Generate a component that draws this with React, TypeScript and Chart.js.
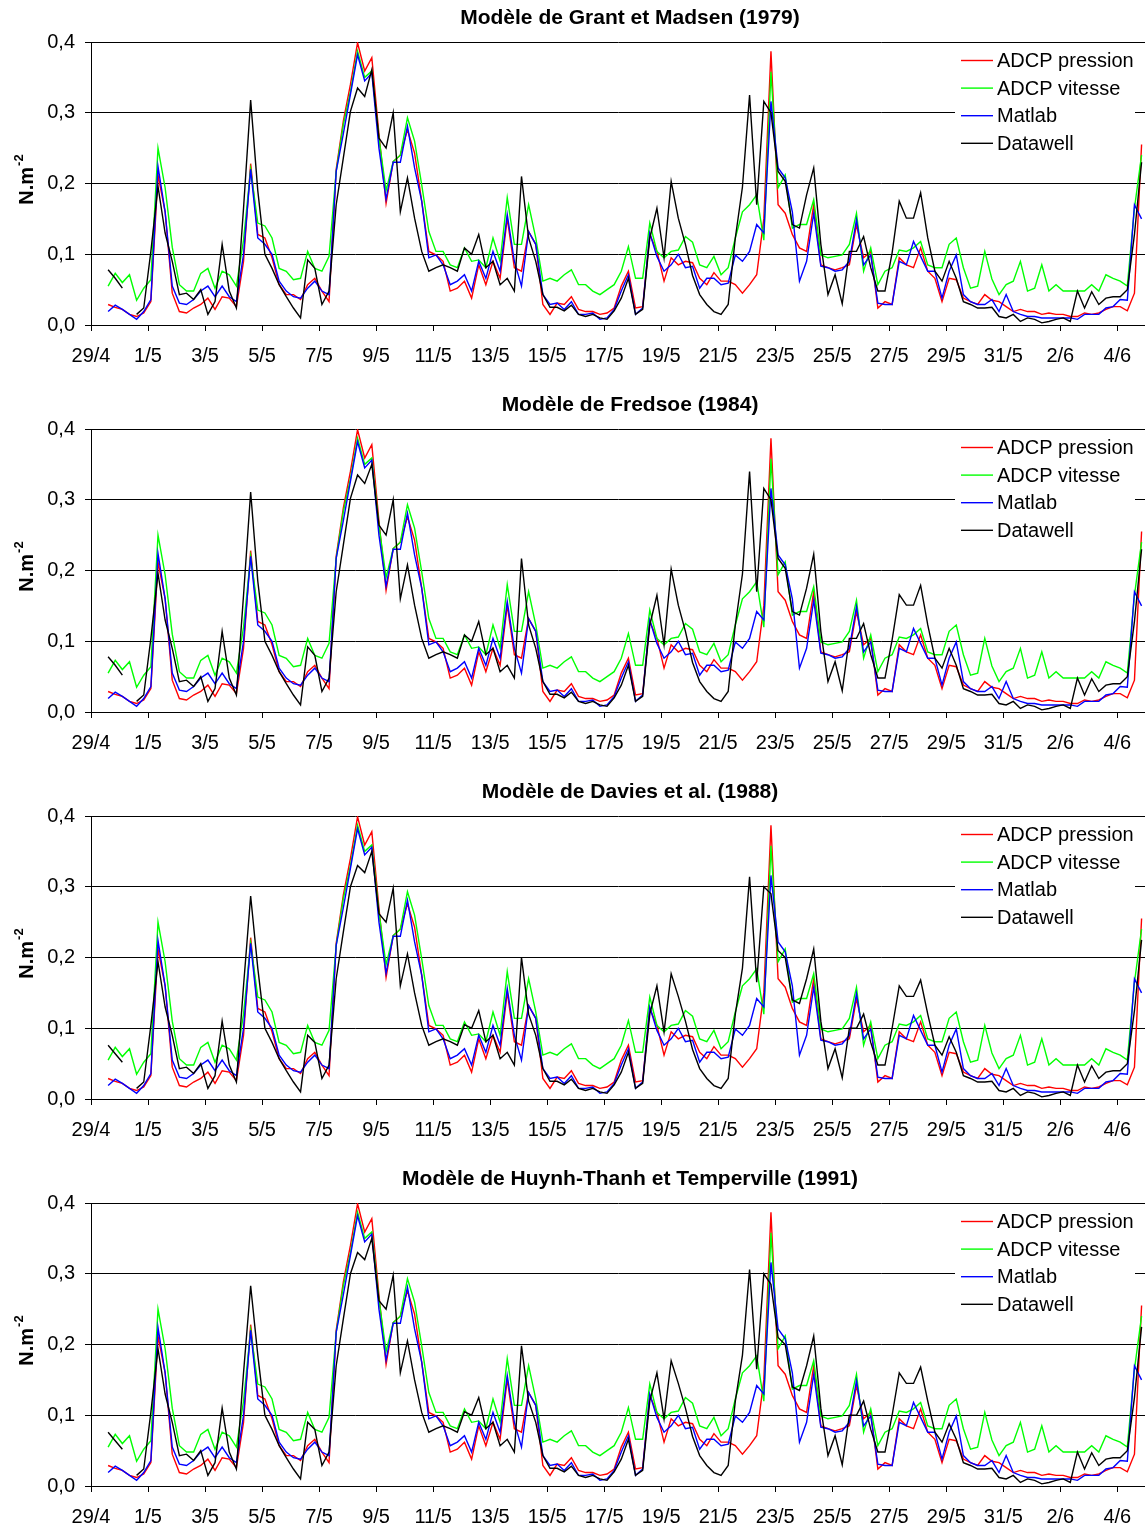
import React, { useEffect, useRef } from 'react';
import { Chart, registerables } from 'chart.js';

Chart.register(...registerables);

const FONT = '"Liberation Sans", Arial, sans-serif';

const PANEL_TITLES = [
  'Modèle de Grant et Madsen (1979)',
  'Modèle de Fredsoe (1984)',
  'Modèle de Davies et al. (1988)',
  'Modèle de Huynh-Thanh et Temperville (1991)',
];
const SERIES_NAMES = ['ADCP pression', 'ADCP vitesse', 'Matlab', 'Datawell'];
const SERIES_COLORS = ['#ff0000', '#00ff00', '#0000ff', '#000000'];

const START_DAY = 0.6; // 29/4 = day 0, one value every 6 h
const STEP_DAY = 0.25;
const X_MAX = 36.97;
const X_TICK_DAYS = [0, 2, 4, 6, 8, 10, 12, 14, 16, 18, 20, 22, 24, 26, 28, 30, 32, 34, 36];
const X_TICK_LABELS = ['29/4', '1/5', '3/5', '5/5', '7/5', '9/5', '11/5', '13/5', '15/5', '17/5', '19/5', '21/5', '23/5', '25/5', '27/5', '29/5', '31/5', '2/6', '4/6'];
const Y_TICKS = [0, 0.1, 0.2, 0.3, 0.4];
const Y_TICK_LABELS = ['0,0', '0,1', '0,2', '0,3', '0,4'];

const ADCP_PRESSION = [
  0.029, 0.025, 0.022, 0.015, 0.012, 0.017, 0.033, 0.212, 0.160, 0.045,
  0.019, 0.017, 0.024, 0.029, 0.038, 0.022, 0.040, 0.038, 0.026, 0.090,
  0.228, 0.128, 0.123, 0.095, 0.057, 0.043, 0.043, 0.036, 0.057, 0.066,
  0.048, 0.033, 0.220, 0.288, 0.340, 0.399, 0.359, 0.378, 0.270, 0.172,
  0.231, 0.240, 0.276, 0.243, 0.175, 0.104, 0.099, 0.090, 0.048, 0.052,
  0.062, 0.038, 0.085, 0.057, 0.090, 0.066, 0.151, 0.081, 0.076, 0.132,
  0.114, 0.029, 0.015, 0.031, 0.029, 0.040, 0.022, 0.019, 0.019, 0.015,
  0.017, 0.024, 0.055, 0.076, 0.024, 0.026, 0.128, 0.104, 0.062, 0.095,
  0.085, 0.090, 0.088, 0.066, 0.057, 0.074, 0.062, 0.062, 0.057, 0.045,
  0.057, 0.071, 0.150, 0.387, 0.170, 0.158, 0.128, 0.109, 0.104, 0.170,
  0.085, 0.081, 0.078, 0.081, 0.085, 0.142, 0.095, 0.104, 0.024, 0.033,
  0.029, 0.095, 0.085, 0.081, 0.109, 0.076, 0.066, 0.033, 0.066, 0.064,
  0.038, 0.033, 0.029, 0.043, 0.035, 0.033, 0.026, 0.019, 0.022, 0.019,
  0.019, 0.015, 0.017, 0.015, 0.015, 0.012, 0.012, 0.017, 0.015, 0.017,
  0.022, 0.026, 0.026, 0.020, 0.045, 0.255,
];

const ADCP_VITESSE = [
  0.055, 0.073, 0.060, 0.071, 0.035, 0.052, 0.064, 0.250, 0.194, 0.110,
  0.057, 0.048, 0.048, 0.073, 0.080, 0.052, 0.076, 0.071, 0.055, 0.120,
  0.220, 0.144, 0.140, 0.123, 0.080, 0.076, 0.064, 0.066, 0.104, 0.080,
  0.076, 0.097, 0.217, 0.283, 0.330, 0.387, 0.350, 0.359, 0.264, 0.190,
  0.231, 0.240, 0.293, 0.260, 0.198, 0.132, 0.104, 0.104, 0.085, 0.081,
  0.109, 0.090, 0.092, 0.081, 0.123, 0.090, 0.180, 0.114, 0.114, 0.170,
  0.123, 0.062, 0.066, 0.062, 0.071, 0.078, 0.057, 0.057, 0.048, 0.043,
  0.050, 0.057, 0.076, 0.111, 0.066, 0.066, 0.144, 0.104, 0.095, 0.104,
  0.106, 0.125, 0.117, 0.085, 0.081, 0.097, 0.071, 0.081, 0.123, 0.160,
  0.170, 0.184, 0.120, 0.358, 0.194, 0.212, 0.137, 0.142, 0.142, 0.177,
  0.099, 0.095, 0.097, 0.099, 0.114, 0.158, 0.076, 0.109, 0.057, 0.076,
  0.081, 0.106, 0.104, 0.109, 0.118, 0.085, 0.081, 0.081, 0.114, 0.123,
  0.081, 0.052, 0.055, 0.104, 0.065, 0.043, 0.057, 0.062, 0.090, 0.048,
  0.052, 0.085, 0.048, 0.057, 0.048, 0.048, 0.048, 0.048, 0.057, 0.048,
  0.071, 0.066, 0.062, 0.055, 0.165, 0.240,
];

const MATLAB = [
  0.019, 0.028, 0.022, 0.015, 0.008, 0.019, 0.036, 0.224, 0.160, 0.055,
  0.031, 0.029, 0.036, 0.048, 0.055, 0.040, 0.055, 0.040, 0.033, 0.100,
  0.220, 0.123, 0.114, 0.100, 0.062, 0.048, 0.040, 0.038, 0.052, 0.062,
  0.048, 0.043, 0.217, 0.270, 0.326, 0.382, 0.345, 0.356, 0.250, 0.178,
  0.230, 0.230, 0.281, 0.222, 0.175, 0.095, 0.099, 0.085, 0.057, 0.062,
  0.071, 0.048, 0.090, 0.066, 0.104, 0.076, 0.156, 0.090, 0.055, 0.132,
  0.114, 0.043, 0.029, 0.031, 0.022, 0.033, 0.015, 0.015, 0.017, 0.008,
  0.010, 0.022, 0.048, 0.071, 0.015, 0.024, 0.130, 0.097, 0.076, 0.085,
  0.100, 0.081, 0.083, 0.052, 0.066, 0.066, 0.057, 0.059, 0.099, 0.090,
  0.104, 0.142, 0.130, 0.316, 0.222, 0.208, 0.160, 0.062, 0.090, 0.158,
  0.083, 0.081, 0.076, 0.078, 0.090, 0.149, 0.085, 0.099, 0.031, 0.029,
  0.029, 0.090, 0.085, 0.118, 0.097, 0.076, 0.076, 0.038, 0.076, 0.099,
  0.043, 0.033, 0.029, 0.029, 0.036, 0.019, 0.043, 0.019, 0.015, 0.012,
  0.012, 0.010, 0.010, 0.010, 0.010, 0.010, 0.008, 0.015, 0.015, 0.015,
  0.024, 0.026, 0.036, 0.035, 0.170, 0.150,
];

// Datawell (black) differs the most between the four models
const DATAWELL_GRANT = [
  0.078, 0.066, 0.052, null, 0.015, 0.024, 0.104, 0.196, 0.130, 0.090,
  0.043, 0.045, 0.036, 0.050, 0.015, 0.033, 0.114, 0.048, 0.024, 0.165,
  0.318, 0.190, 0.100, 0.080, 0.057, 0.040, 0.024, 0.010, 0.092, 0.080,
  0.029, 0.048, 0.170, 0.236, 0.302, 0.335, 0.323, 0.361, 0.264, 0.250,
  0.300, 0.160, 0.208, 0.151, 0.104, 0.076, 0.081, 0.085, 0.081, 0.076,
  0.109, 0.100, 0.128, 0.081, 0.090, 0.057, 0.066, 0.048, 0.210, 0.123,
  0.090, 0.043, 0.025, 0.025, 0.020, 0.028, 0.015, 0.012, 0.015, 0.010,
  0.008, 0.020, 0.038, 0.066, 0.015, 0.022, 0.123, 0.165, 0.095, 0.203,
  0.151, 0.114, 0.070, 0.043, 0.029, 0.019, 0.015, 0.029, 0.123, 0.195,
  0.325, 0.170, 0.316, 0.300, 0.217, 0.203, 0.142, 0.137, 0.184, 0.222,
  0.114, 0.043, 0.071, 0.030, 0.104, 0.104, 0.125, 0.081, 0.048, 0.048,
  0.102, 0.175, 0.151, 0.151, 0.187, 0.123, 0.076, 0.062, 0.090, 0.066,
  0.033, 0.029, 0.024, 0.024, 0.025, 0.012, 0.010, 0.015, 0.005, 0.010,
  0.008, 0.003, 0.005, 0.008, 0.010, 0.005, 0.048, 0.024, 0.047, 0.029,
  0.038, 0.040, 0.040, 0.050, 0.128, 0.230,
];

const DATAWELL_FREDSOE = [
  0.078, 0.066, 0.052, null, 0.015, 0.024, 0.104, 0.196, 0.130, 0.090,
  0.043, 0.045, 0.036, 0.050, 0.015, 0.033, 0.114, 0.048, 0.024, 0.165,
  0.311, 0.185, 0.100, 0.080, 0.057, 0.040, 0.024, 0.010, 0.092, 0.080,
  0.029, 0.048, 0.170, 0.236, 0.302, 0.335, 0.323, 0.350, 0.264, 0.250,
  0.300, 0.160, 0.208, 0.151, 0.104, 0.076, 0.081, 0.085, 0.081, 0.076,
  0.109, 0.100, 0.128, 0.081, 0.090, 0.057, 0.066, 0.048, 0.217, 0.123,
  0.090, 0.043, 0.025, 0.025, 0.020, 0.028, 0.015, 0.012, 0.015, 0.010,
  0.008, 0.020, 0.038, 0.066, 0.015, 0.022, 0.123, 0.165, 0.095, 0.202,
  0.151, 0.114, 0.070, 0.043, 0.029, 0.019, 0.015, 0.029, 0.123, 0.195,
  0.340, 0.170, 0.316, 0.300, 0.217, 0.203, 0.142, 0.137, 0.175, 0.223,
  0.114, 0.043, 0.071, 0.030, 0.104, 0.104, 0.125, 0.081, 0.048, 0.048,
  0.102, 0.166, 0.151, 0.151, 0.179, 0.123, 0.076, 0.062, 0.090, 0.066,
  0.033, 0.029, 0.024, 0.024, 0.025, 0.012, 0.010, 0.015, 0.005, 0.010,
  0.008, 0.003, 0.005, 0.008, 0.010, 0.005, 0.048, 0.024, 0.047, 0.029,
  0.038, 0.040, 0.040, 0.050, 0.128, 0.230,
];

const DATAWELL_DAVIES = [
  0.076, 0.064, 0.052, null, 0.015, 0.024, 0.104, 0.194, 0.130, 0.090,
  0.043, 0.045, 0.036, 0.050, 0.015, 0.033, 0.110, 0.048, 0.024, 0.160,
  0.287, 0.185, 0.100, 0.080, 0.057, 0.040, 0.024, 0.010, 0.090, 0.080,
  0.029, 0.048, 0.170, 0.236, 0.300, 0.330, 0.320, 0.350, 0.262, 0.250,
  0.298, 0.160, 0.205, 0.150, 0.104, 0.076, 0.081, 0.085, 0.081, 0.076,
  0.105, 0.100, 0.125, 0.081, 0.090, 0.057, 0.066, 0.048, 0.200, 0.120,
  0.090, 0.043, 0.025, 0.025, 0.020, 0.028, 0.015, 0.012, 0.015, 0.010,
  0.008, 0.020, 0.038, 0.066, 0.015, 0.022, 0.120, 0.160, 0.095, 0.177,
  0.145, 0.110, 0.070, 0.043, 0.029, 0.019, 0.015, 0.029, 0.120, 0.185,
  0.314, 0.165, 0.300, 0.290, 0.210, 0.200, 0.140, 0.135, 0.170, 0.212,
  0.110, 0.043, 0.071, 0.030, 0.100, 0.100, 0.120, 0.080, 0.048, 0.048,
  0.100, 0.160, 0.145, 0.145, 0.168, 0.120, 0.076, 0.062, 0.088, 0.066,
  0.033, 0.029, 0.024, 0.024, 0.025, 0.012, 0.010, 0.015, 0.005, 0.010,
  0.008, 0.003, 0.005, 0.008, 0.010, 0.005, 0.048, 0.024, 0.047, 0.029,
  0.038, 0.040, 0.040, 0.050, 0.125, 0.225,
];

const DATAWELL_HUYNH = [
  0.076, 0.064, 0.052, null, 0.015, 0.024, 0.104, 0.194, 0.130, 0.090,
  0.043, 0.045, 0.036, 0.050, 0.015, 0.033, 0.110, 0.048, 0.024, 0.160,
  0.283, 0.185, 0.100, 0.080, 0.057, 0.040, 0.024, 0.010, 0.090, 0.080,
  0.029, 0.048, 0.170, 0.236, 0.300, 0.330, 0.320, 0.350, 0.262, 0.250,
  0.298, 0.160, 0.205, 0.150, 0.104, 0.076, 0.081, 0.085, 0.081, 0.076,
  0.105, 0.100, 0.125, 0.081, 0.090, 0.057, 0.066, 0.048, 0.198, 0.120,
  0.090, 0.043, 0.025, 0.025, 0.020, 0.028, 0.015, 0.012, 0.015, 0.010,
  0.008, 0.020, 0.038, 0.066, 0.015, 0.022, 0.120, 0.160, 0.095, 0.177,
  0.145, 0.110, 0.070, 0.043, 0.029, 0.019, 0.015, 0.029, 0.120, 0.185,
  0.306, 0.165, 0.300, 0.285, 0.210, 0.200, 0.140, 0.135, 0.170, 0.212,
  0.110, 0.043, 0.071, 0.030, 0.100, 0.100, 0.120, 0.080, 0.048, 0.048,
  0.100, 0.160, 0.145, 0.145, 0.168, 0.120, 0.076, 0.062, 0.088, 0.066,
  0.033, 0.029, 0.024, 0.024, 0.025, 0.012, 0.010, 0.015, 0.005, 0.010,
  0.008, 0.003, 0.005, 0.008, 0.010, 0.005, 0.048, 0.024, 0.047, 0.029,
  0.038, 0.040, 0.040, 0.050, 0.125, 0.225,
];

const PANEL_SERIES = [
  [ADCP_PRESSION, ADCP_VITESSE, MATLAB, DATAWELL_GRANT],
  [ADCP_PRESSION, ADCP_VITESSE, MATLAB, DATAWELL_FREDSOE],
  [ADCP_PRESSION, ADCP_VITESSE, MATLAB, DATAWELL_DAVIES],
  [ADCP_PRESSION, ADCP_VITESSE, MATLAB, DATAWELL_HUYNH],
];

function makeDecor(title: string) {
  return {
    id: 'decor',
    afterDraw(chart: any) {
      const c = chart.ctx as CanvasRenderingContext2D;
      c.save();
      // title
      c.fillStyle = '#000';
      c.font = `bold 21px ${FONT}`;
      c.textAlign = 'center';
      c.textBaseline = 'middle';
      c.fillText(title, 630, 18);
      // legend box
      c.fillStyle = '#fff';
      c.fillRect(955, 46, 180, 112);
      SERIES_NAMES.forEach((name, s) => {
        const y = 60.5 + s * 27.6;
        c.strokeStyle = SERIES_COLORS[s];
        c.lineWidth = 1.4;
        c.beginPath();
        c.moveTo(961, y);
        c.lineTo(993, y);
        c.stroke();
        c.fillStyle = '#000';
        c.font = `20px ${FONT}`;
        c.textAlign = 'left';
        c.textBaseline = 'middle';
        c.fillText(name, 997, y + 1);
      });
      // y axis title with superscript
      c.translate(33, 180);
      c.rotate(-Math.PI / 2);
      c.textBaseline = 'alphabetic';
      c.textAlign = 'left';
      c.font = `bold 20px ${FONT}`;
      const w1 = c.measureText('N.m').width;
      c.font = `bold 13px ${FONT}`;
      const w2 = c.measureText('-2').width;
      const x0 = -(w1 + w2) / 2;
      c.fillStyle = '#000';
      c.font = `bold 20px ${FONT}`;
      c.fillText('N.m', x0, 0);
      c.font = `bold 13px ${FONT}`;
      c.fillText('-2', x0 + w1 + 1, -10);
      c.restore();
    },
  };
}

function Panel({ title, series }: { title: string; series: (number | null)[][] }) {
  const ref = useRef<HTMLCanvasElement>(null);
  useEffect(() => {
    if (!ref.current) return;
    const chart = new Chart(ref.current, {
      type: 'line',
      data: {
        datasets: series.map((vals, s) => ({
          label: SERIES_NAMES[s],
          data: vals.map((v, i) => ({ x: START_DAY + i * STEP_DAY, y: v })),
          borderColor: SERIES_COLORS[s],
          backgroundColor: SERIES_COLORS[s],
          borderWidth: 1.4,
          pointRadius: 0,
          tension: 0,
          spanGaps: false,
          order: 3 - s,
        })),
      },
      options: {
        responsive: false,
        animation: false,
        events: [],
        layout: { padding: { top: 42, left: 0, right: 0, bottom: 0 } },
        plugins: {
          legend: { display: false },
          title: { display: false },
          tooltip: { enabled: false },
        },
        scales: {
          x: {
            type: 'linear',
            min: 0,
            max: X_MAX,
            afterBuildTicks: (s: any) => {
              s.ticks = X_TICK_DAYS.map((v) => ({ value: v }));
            },
            afterFit: (s: any) => {
              s.height = 62;
            },
            ticks: {
              autoSkip: false,
              maxRotation: 0,
              minRotation: 0,
              padding: 13,
              color: '#000',
              font: { family: FONT, size: 20 },
              callback: (_v: any, i: number) => X_TICK_LABELS[i],
            },
            grid: { drawOnChartArea: false, drawTicks: true, tickLength: 6, color: '#000', lineWidth: 1 },
            border: { display: true, color: '#000', width: 1 },
          },
          y: {
            type: 'linear',
            min: 0,
            max: 0.4,
            afterBuildTicks: (s: any) => {
              s.ticks = Y_TICKS.map((v) => ({ value: v }));
            },
            afterFit: (s: any) => {
              s.width = 91;
            },
            ticks: {
              padding: 10,
              color: '#000',
              font: { family: FONT, size: 20 },
              callback: (_v: any, i: number) => Y_TICK_LABELS[i],
            },
            grid: { color: '#000', lineWidth: 1, tickLength: 6, drawTicks: true },
            border: { display: true, color: '#000', width: 1 },
          },
        },
      } as any,
      plugins: [makeDecor(title)],
    });
    return () => chart.destroy();
  }, [title, series]);
  return <canvas ref={ref} width={1145} height={387} style={{ display: 'block' }} />;
}

export default function App() {
  return (
    <div style={{ position: 'absolute', left: 0, top: 0, width: 1145, background: '#fff' }}>
      {PANEL_TITLES.map((t, p) => (
        <Panel key={p} title={t} series={PANEL_SERIES[p]} />
      ))}
    </div>
  );
}
